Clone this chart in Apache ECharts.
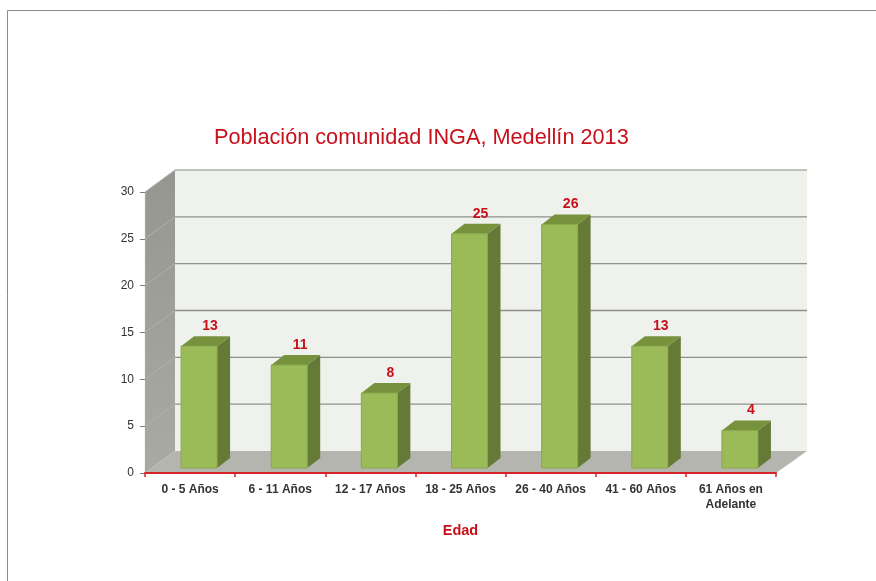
<!DOCTYPE html>
<html><head><meta charset="utf-8">
<style>html,body{margin:0;padding:0;background:#fff}#c{width:876px;height:581px}</style>
<script src="https://cdn.jsdelivr.net/npm/echarts@6/dist/echarts.min.js"></script>
</head><body><div id="c"></div>
<script>
var titleText = 'Población comunidad INGA, Medellín 2013';
var axisName = 'Edad';
var categories = ['0 - 5 Años','6 - 11 Años','12 - 17 Años','18 - 25 Años','26 - 40 Años','41 - 60 Años','61 Años en\nAdelante'];
var values = [13,11,8,25,26,13,4];
var yTicks = [0,5,10,15,20,25,30];

var DX = 30, DY = 22;          // wall depth
var BAR_W = 36, BAR_DX = 13, BAR_DY = 10, BAR_OFF_X = 9, BAR_OFF_Y = 5;
var RED = '#c8101a';
var FONT = '"Liberation Sans", Arial, sans-serif';

var chart = echarts.init(document.getElementById('c'), null, {renderer:'canvas'});

function poly(points, fill, stroke) {
  return {type:'polygon', shape:{points:points}, style:{fill:fill, stroke:stroke||null, lineWidth:stroke?1:0}};
}
function line(x1,y1,x2,y2,color,w) {
  return {type:'line', shape:{x1:x1,y1:y1,x2:x2,y2:y2}, style:{stroke:color, lineWidth:w||1.2}};
}

function renderWalls(params, api) {
  var cs = params.coordSys;
  var L = cs.x, R = cs.x + cs.width;
  var y0 = api.coord([0, 0])[1], yT = api.coord([0, yTicks[yTicks.length-1]])[1];
  var kids = [
    poly([[L+DX,yT-DY],[R+DX+1,yT-DY],[R+DX+1,y0-DY],[L+DX,y0-DY]], '#eff1ec'),
    poly([[L,yT],[L+DX,yT-DY],[L+DX,y0-DY],[L,y0]], {
      type:'linear',x:0,y:0,x2:0,y2:1,
      colorStops:[{offset:0,color:'#94968f'},{offset:1,color:'#a8aaa3'}]
    }),
    poly([[L,y0],[L+DX,y0-DY],[R+DX+1,y0-DY],[R,y0]], '#b3b5ae')
  ];
  yTicks.forEach(function(t){
    if (t === 0) return;
    var y = api.coord([0,t])[1];
    var col = t === yTicks[yTicks.length-1] ? '#aeb0aa' : '#8f918c';
    kids.push(line(L,y,L+DX,y-DY,'#b0b2ac',1));
    kids.push(line(L+DX,y-DY,R+DX+1,y-DY,col,1.3));
  });
  return {type:'group', children:kids};
}

function renderBar(params, api) {
  var idx = api.value(0), v = api.value(1);
  var base = api.coord([idx, 0]), top = api.coord([idx, v]);
  var x1 = base[0] + BAR_OFF_X - BAR_W/2, x2 = x1 + BAR_W;
  var yb = base[1] - BAR_OFF_Y, yt = top[1] - BAR_OFF_Y;
  return {type:'group', children:[
    poly([[x2,yt],[x2+BAR_DX,yt-BAR_DY],[x2+BAR_DX,yb-BAR_DY],[x2,yb]], '#667a37'),
    poly([[x1,yt],[x1+BAR_DX,yt-BAR_DY],[x2+BAR_DX,yt-BAR_DY],[x2,yt]], '#76923c'),
    poly([[x1,yt],[x2,yt],[x2,yb],[x1,yb]], '#9bbb59', '#8aa84c'),
    {type:'text', style:{text:String(v), x:(x1+x2)/2+11, y:yt-20, align:'center', verticalAlign:'middle',
      fill:RED, font:'bold 14px ' + FONT}}
  ]};
}

chart.setOption({
  animation:false,
  backgroundColor:'#ffffff',
  title:{text:titleText, left:209, top:122,
    textStyle:{color:RED, fontSize:21.7, fontWeight:'normal', fontFamily:FONT}},
  grid:{left:145, top:192, width:631, height:281, containLabel:false},
  xAxis:{type:'category', data:categories, boundaryGap:true, z:5,
    name:axisName, nameLocation:'middle', nameGap:50,
    nameTextStyle:{color:RED, fontSize:14.5, fontWeight:'bold', fontFamily:FONT},
    axisLine:{show:true, lineStyle:{color:'#d8232a', width:2}},
    axisTick:{show:true, alignWithLabel:false, length:4, lineStyle:{color:'#d8232a', width:1.5}},
    axisLabel:{interval:0, margin:9, color:'#333333', fontSize:12, fontWeight:'bold', lineHeight:15, fontFamily:FONT},
    splitLine:{show:false}
  },
  yAxis:{type:'value', min:0, max:30, interval:5, z:5,
    axisLine:{show:true, lineStyle:{color:'#a6a6a6', width:1.2}},
    axisTick:{show:true, length:5, lineStyle:{color:'#808080'}},
    axisLabel:{color:'#333333', fontSize:12, margin:11, padding:[2,0,0,0], fontFamily:FONT},
    splitLine:{show:false}
  },
  graphic:[
    {type:'polyline', silent:true, shape:{points:[[7.5,581],[7.5,10.5],[876,10.5]]},
     style:{fill:null, stroke:'#8a8a8a', lineWidth:1}}
  ],
  series:[
    {type:'custom', z:1, silent:true, clip:false, renderItem:renderWalls, data:[[0,0]], encode:{x:0,y:1}},
    {type:'custom', z:3, silent:true, clip:false, renderItem:renderBar,
      data:values.map(function(v,i){return [i,v];}), encode:{x:0,y:1}}
  ]
});
</script></body></html>
